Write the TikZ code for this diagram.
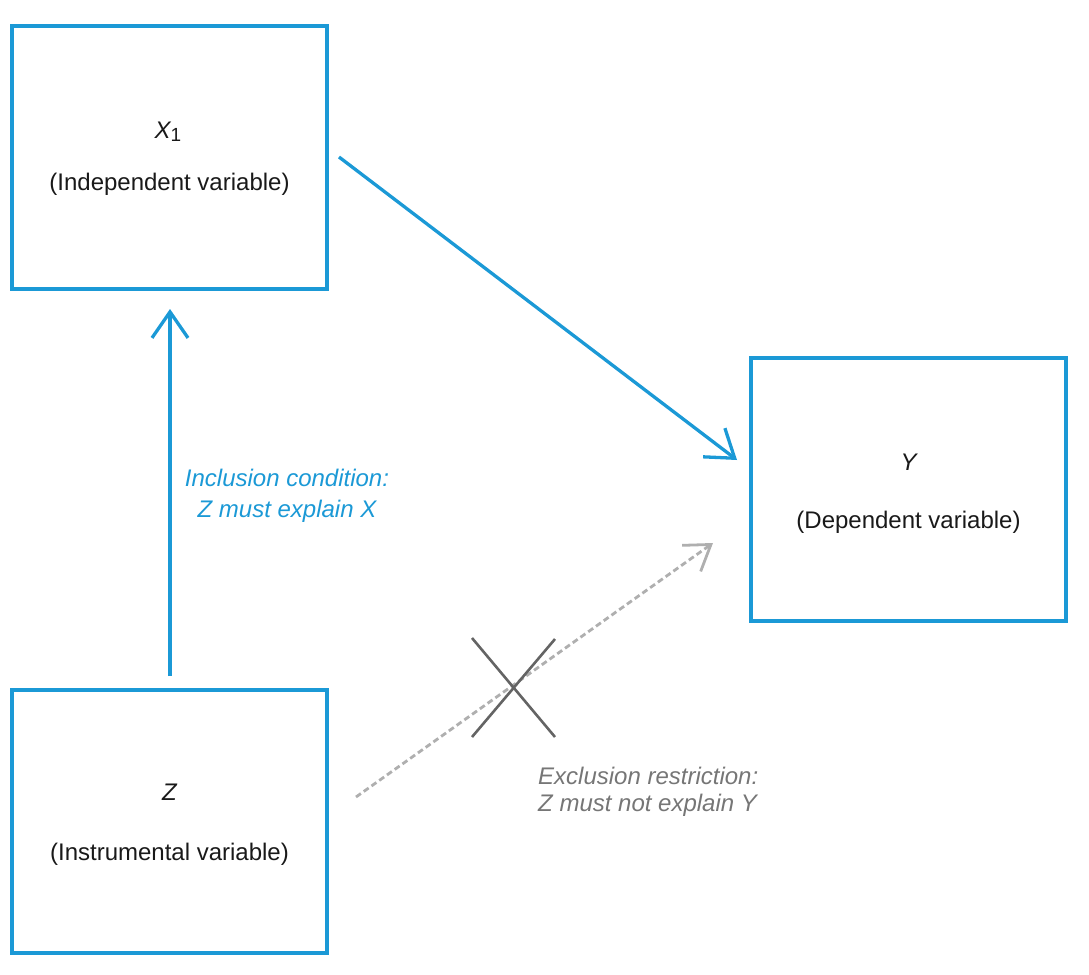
\documentclass[tikz,border=0pt]{standalone}
\usepackage{fontspec}
\setmainfont{Liberation Sans}
\usetikzlibrary{arrows.meta}
\definecolor{ablue}{RGB}{27,153,214}
\definecolor{dgray}{RGB}{175,175,175}
\definecolor{xgray}{RGB}{100,100,100}
\definecolor{tgray}{RGB}{118,118,118}
\definecolor{ink}{RGB}{25,25,25}
\begin{document}
\begin{tikzpicture}[x=1pt,y=-1pt,
  varbox/.style={draw=ablue,line width=4pt,minimum width=315pt,minimum height=263pt,inner sep=0pt},
  lbl/.style={font=\fontsize{24}{30}\selectfont,text=ink,inner sep=0pt,anchor=base},
  sym/.style={lbl,font=\fontsize{24}{30}\selectfont\itshape},
  note/.style={inner sep=0pt,anchor=base,font=\fontsize{24}{30}\selectfont\itshape},
  bluearrow/.style={draw=ablue,line width=3.3pt,-{Straight Barb[length=26pt,width=36pt]}},
  grayarrow/.style={draw=dgray,line width=2.8pt,dash pattern=on 6pt off 3.5pt,-{Straight Barb[length=24pt,width=32pt]}},
  crossline/.style={draw=xgray,line width=2.6pt}
]
\useasboundingbox (0,0) rectangle (1089,974);

% boxes
\node[varbox] (X1) at (169.5,157.5) {};
\node[varbox] (Y)  at (908.5,489.5) {};
\node[varbox] (Z)  at (169.5,821.5) {};

% box texts
\node[sym] (x1sym) at (168,138) {X\raisebox{-0.3ex}{\upshape\fontsize{19}{19}\selectfont 1}};
\node[lbl] (x1lab) at (169.5,190) {(Independent variable)};
\node[sym] (ysym) at (908.5,470) {Y};
\node[lbl] (ylab) at (908.5,528) {(Dependent variable)};
\node[sym] (zsym) at (169.5,800) {Z};
\node[lbl] (zlab) at (169.5,860) {(Instrumental variable)};

% connector end points
\coordinate (x1out) at (339,157);
\coordinate (yin)   at (737,460);
\coordinate (zup)   at (170,676);
\coordinate (x1in)  at (170,309);
\coordinate (zout)  at (356,797);
\coordinate (ydash) at (713,543);

\draw[bluearrow] (x1out) -- (yin);
\draw[bluearrow] (zup) -- (x1in);
\draw[grayarrow] (zout) -- (ydash);

% cross
\coordinate (c1) at (472,638);
\coordinate (c2) at (555,737);
\coordinate (c3) at (472,737);
\coordinate (c4) at (555,639);
\draw[crossline] (c1) -- (c2);
\draw[crossline] (c3) -- (c4);

% notes
\node[note,text=ablue] (inc1) at (287,486) {Inclusion condition:};
\node[note,text=ablue] (inc2) at (287,517) {Z must explain X};
\node[note,text=tgray,anchor=base west] (exc1) at (538,784) {Exclusion restriction:};
\node[note,text=tgray,anchor=base west] (exc2) at (538,811) {Z must not explain Y};
\end{tikzpicture}
\end{document}
